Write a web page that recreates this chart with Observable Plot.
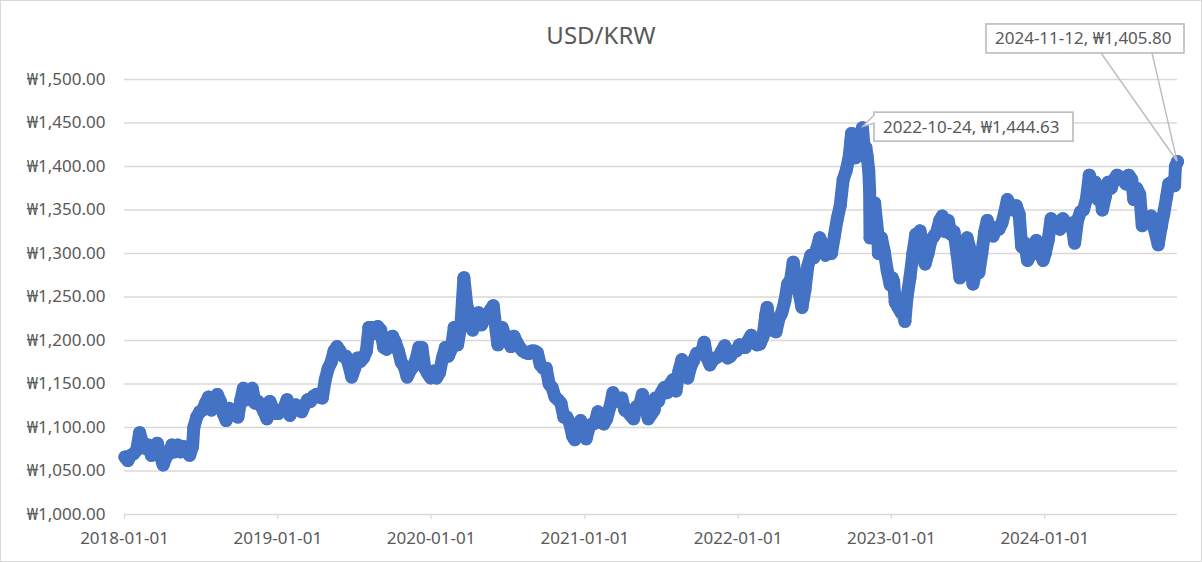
<!DOCTYPE html>
<html><head><meta charset="utf-8">
<script src="https://cdn.jsdelivr.net/npm/d3@7"></script>
<script src="https://cdn.jsdelivr.net/npm/@observablehq/plot@0.6"></script>
<style>
html,body{margin:0;padding:0;background:#fff;}
#frame{box-sizing:border-box;width:1202px;height:562px;border:1px solid #d9d9d9;overflow:hidden;font-family:"Noto Sans","DejaVu Sans",sans-serif;background:#fff;}
#title{height:40px;padding-top:19px;line-height:30px;text-align:center;color:#595959;font-size:24px;}
svg{display:block;}
</style>
</head><body>
<div id="frame"><div id="title">USD/KRW</div><div id="chart"></div></div>
<script>
// ---- data: [MM-DD, KRW per USD] ----
const rates2018 = [["01-02",1066],["01-09",1062],["01-16",1068],["01-23",1070],["01-30",1074],["02-06",1094],["02-13",1082],["02-20",1076],["02-27",1080],["03-06",1068],["03-13",1070],["03-20",1082],["03-27",1068],["04-03",1057],["04-10",1066],["04-17",1070],["04-24",1080],["05-01",1072],["05-08",1080],["05-15",1072],["05-22",1078],["05-29",1072],["06-05",1068],["06-12",1078],["06-15",1100],["06-22",1112],["06-29",1118],["07-06",1120],["07-13",1128],["07-20",1135],["07-27",1120],["08-03",1128],["08-10",1138],["08-17",1130],["08-24",1116],["08-31",1108],["09-07",1122],["09-14",1118],["09-21",1115],["09-28",1112],["10-05",1132],["10-11",1145],["10-18",1132],["10-25",1140],["11-01",1145],["11-08",1128],["11-15",1130],["11-22",1125],["11-29",1118],["12-06",1110],["12-13",1130],["12-20",1122],["12-28",1116]];
const rates2019 = [["01-02",1116],["01-09",1120],["01-16",1123],["01-23",1132],["01-30",1114],["02-06",1120],["02-13",1126],["02-20",1122],["02-27",1118],["03-06",1126],["03-13",1132],["03-20",1130],["03-27",1136],["04-03",1138],["04-10",1135],["04-17",1134],["04-24",1155],["05-01",1168],["05-08",1175],["05-15",1188],["05-22",1193],["05-29",1188],["06-05",1182],["06-12",1182],["06-19",1172],["06-26",1158],["07-03",1168],["07-10",1180],["07-17",1176],["07-24",1180],["07-31",1188],["08-06",1215],["08-13",1215],["08-20",1208],["08-27",1216],["09-03",1212],["09-10",1192],["09-17",1190],["09-24",1196],["10-01",1205],["10-08",1198],["10-15",1188],["10-22",1175],["10-29",1170],["11-05",1158],["11-12",1165],["11-19",1170],["11-26",1178],["12-03",1192],["12-10",1192],["12-17",1168],["12-24",1162],["12-31",1157]];
const rates2020 = [["01-07",1165],["01-14",1157],["01-21",1163],["01-28",1180],["02-04",1192],["02-11",1182],["02-18",1190],["02-25",1215],["03-04",1195],["03-12",1218],["03-19",1272],["03-26",1240],["04-02",1230],["04-09",1212],["04-16",1222],["04-23",1232],["04-30",1218],["05-07",1225],["05-14",1228],["05-21",1235],["05-28",1240],["06-04",1210],["06-08",1195],["06-18",1215],["06-25",1205],["07-02",1200],["07-09",1193],["07-16",1205],["07-23",1198],["07-30",1192],["08-06",1188],["08-13",1186],["08-20",1185],["08-27",1188],["09-03",1188],["09-10",1186],["09-17",1172],["09-24",1168],["10-01",1168],["10-08",1150],["10-15",1146],["10-22",1135],["10-29",1132],["11-05",1128],["11-12",1112],["11-19",1112],["11-26",1105],["12-03",1090],["12-08",1086],["12-15",1093],["12-22",1108],["12-29",1092]];
const rates2021 = [["01-04",1087],["01-11",1100],["01-18",1104],["01-25",1105],["02-01",1118],["02-08",1115],["02-15",1104],["02-22",1110],["03-02",1124],["03-09",1140],["03-16",1132],["03-23",1130],["03-30",1134],["04-06",1120],["04-13",1118],["04-20",1114],["04-27",1110],["05-04",1124],["05-11",1125],["05-18",1138],["05-25",1125],["06-01",1110],["06-08",1115],["06-15",1120],["06-18",1134],["06-25",1130],["07-02",1140],["07-09",1146],["07-16",1140],["07-23",1150],["07-30",1155],["08-06",1142],["08-13",1165],["08-20",1178],["08-27",1170],["09-03",1157],["09-10",1170],["09-17",1177],["09-24",1185],["10-01",1185],["10-08",1190],["10-12",1198],["10-19",1180],["10-26",1172],["11-02",1178],["11-09",1180],["11-16",1182],["11-23",1188],["11-30",1194],["12-07",1180],["12-14",1182],["12-21",1188],["12-28",1188]];
const rates2022 = [["01-04",1195],["01-11",1192],["01-18",1192],["01-25",1200],["02-01",1206],["02-08",1198],["02-15",1195],["02-22",1196],["03-01",1204],["03-08",1230],["03-11",1238],["03-18",1212],["03-25",1220],["04-01",1210],["04-08",1225],["04-15",1232],["04-22",1245],["04-29",1265],["05-06",1270],["05-12",1290],["05-19",1270],["05-26",1255],["06-02",1238],["06-09",1258],["06-16",1286],["06-23",1298],["06-30",1295],["07-07",1305],["07-14",1318],["07-21",1310],["07-28",1298],["08-04",1305],["08-11",1300],["08-18",1320],["08-25",1340],["09-01",1355],["09-08",1385],["09-15",1395],["09-22",1410],["09-26",1428],["09-28",1438],["10-04",1422],["10-07",1410],["10-12",1435],["10-18",1425],["10-21",1440],["10-24",1444.63],["10-28",1420],["11-01",1422],["11-04",1412],["11-08",1395],["11-10",1372],["11-11",1318],["11-15",1325],["11-18",1335],["11-22",1358],["11-29",1325],["12-01",1300],["12-08",1318],["12-15",1302],["12-22",1280],["12-29",1264]];
const rates2023 = [["01-03",1272],["01-06",1268],["01-10",1244],["01-17",1238],["01-24",1232],["01-31",1228],["02-02",1222],["02-07",1250],["02-14",1272],["02-21",1300],["02-28",1322],["03-07",1318],["03-10",1326],["03-17",1305],["03-22",1288],["03-29",1300],["04-05",1315],["04-12",1320],["04-19",1325],["04-26",1338],["05-02",1343],["05-09",1325],["05-16",1338],["05-23",1322],["05-30",1325],["06-06",1300],["06-13",1272],["06-20",1285],["06-27",1308],["06-30",1318],["07-07",1305],["07-14",1265],["07-21",1280],["07-28",1278],["08-04",1300],["08-11",1325],["08-17",1338],["08-24",1325],["08-31",1320],["09-07",1330],["09-14",1328],["09-21",1335],["09-28",1348],["10-04",1362],["10-11",1355],["10-18",1350],["10-25",1355],["11-01",1345],["11-07",1308],["11-14",1312],["11-21",1292],["11-28",1298],["12-05",1310],["12-12",1315],["12-19",1305],["12-28",1292]];
const rates2024 = [["01-02",1300],["01-09",1315],["01-16",1340],["01-23",1335],["01-30",1330],["02-06",1328],["02-13",1340],["02-20",1335],["02-27",1332],["03-05",1335],["03-12",1312],["03-19",1338],["03-26",1348],["04-02",1350],["04-09",1362],["04-16",1390],["04-23",1380],["04-30",1382],["05-07",1362],["05-14",1368],["05-17",1350],["05-24",1365],["05-31",1382],["06-07",1375],["06-14",1385],["06-21",1390],["06-28",1388],["07-05",1385],["07-12",1380],["07-19",1390],["07-26",1385],["07-31",1362],["08-07",1375],["08-14",1368],["08-20",1332],["08-27",1335],["09-03",1340],["09-10",1343],["09-17",1330],["09-27",1310],["10-04",1330],["10-10",1345],["10-17",1365],["10-22",1380],["10-29",1382],["11-05",1378],["11-07",1400],["11-12",1405.8]];

const xTickLabels = ["2018-01-01","2019-01-01","2020-01-01","2021-01-01","2022-01-01","2023-01-01","2024-01-01"];
const yTickValues = [1000,1050,1100,1150,1200,1250,1300,1350,1400,1450,1500];
const calloutDates = ["2022-10-24","2024-11-12"];

// ---- build table ----
const years = {2018: rates2018, 2019: rates2019, 2020: rates2020, 2021: rates2021, 2022: rates2022, 2023: rates2023, 2024: rates2024};
const data = [];
for (const [yr, rows] of Object.entries(years)) {
  for (const [md, v] of rows) data.push({date: new Date(`${yr}-${md}T00:00:00Z`), rate: v});
}
const fmtDate = d3.utcFormat("%Y-%m-%d");
const fmtWon = v => "₩" + d3.format(",.2f")(v);
const callouts = calloutDates.map(s => data.find(d => fmtDate(d.date) === s));

// callout layout (pixel offsets from the anchored point)
const calloutLayout = [
  {dx: 12, dy: -15, w: 199, h: 29, kind: "wedge"},
  {dx: -191, dy: -137, w: 198, h: 29, kind: "leader", l1: -76, l2: -25}
];

const BLUE = "#4472C4";
const GRID = "#d9d9d9";
const TEXT = "#595959";

const calloutMark = (index, scales) => {
  const g = d3.create("svg:g").attr("text-anchor", "start");
  callouts.forEach((d, i) => {
    const L = calloutLayout[i];
    const px = scales.x(d.date), py = scales.y(d.rate);
    const bx = px + L.dx, by = py + L.dy;
    if (L.kind === "leader") {
      g.append("path")
        .attr("d", `M${px + L.l1},${by + L.h}L${px},${py}L${px + L.l2},${by + L.h}`)
        .attr("fill", "none").attr("stroke", "#bfbfbf").attr("stroke-width", 1.5);
    }
    g.append("rect").attr("x", bx).attr("y", by).attr("width", L.w).attr("height", L.h)
      .attr("fill", "#fff").attr("stroke", "#bfbfbf").attr("stroke-width", 1.7);
    if (L.kind === "wedge") {
      g.append("path")
        .attr("d", `M${bx},${by + 3}L${px + 1},${py - 1}L${bx},${by + 11}`)
        .attr("fill", "#fff").attr("stroke", "#bfbfbf").attr("stroke-width", 1.5);
      g.append("line").attr("x1", bx).attr("x2", bx).attr("y1", by + 4).attr("y2", by + 10)
        .attr("stroke", "#fff").attr("stroke-width", 2);
    }
    g.append("text").attr("x", bx + 9).attr("y", by + L.h / 2).attr("dy", "0.35em")
      .attr("text-anchor", "start")
      .attr("fill", TEXT).attr("font-size", 17)
      .text(`${fmtDate(d.date)}, ${fmtWon(d.rate)}`);
  });
  return g.node();
};

const chart = Plot.plot({
  width: 1200,
  height: 501,
  marginLeft: 123,
  marginRight: 24,
  marginTop: 19,
  marginBottom: 47,
  style: {fontFamily: '"Noto Sans","DejaVu Sans",sans-serif', fontSize: "17px", color: TEXT, background: "#fff", overflow: "visible"},
  x: {type: "utc", domain: [new Date("2018-01-01T00:00:00Z"), new Date("2024-11-12T00:00:00Z")]},
  y: {domain: [1000, 1500]},
  marks: [
    Plot.gridY(yTickValues, {stroke: GRID, strokeOpacity: 1, strokeWidth: 1.3}),
    Plot.axisY(yTickValues, {tickSize: 0, tickPadding: 19, tickFormat: fmtWon, fill: TEXT, label: null}),
    Plot.axisX(xTickLabels.map(s => new Date(s + "T00:00:00Z")), {tickSize: 5, tickPadding: 12, stroke: GRID, strokeWidth: 1.3, fill: TEXT, tickFormat: fmtDate, label: null}),
    Plot.line(data, {x: "date", y: "rate", stroke: BLUE, strokeWidth: 13, strokeLinejoin: "round", strokeLinecap: "round"}),
    Plot.dot(data, {x: "date", y: "rate", r: 6.5, fill: BLUE, stroke: "none"}),
    calloutMark
  ]
});
document.getElementById("chart").appendChild(chart);
</script>
</body></html>
